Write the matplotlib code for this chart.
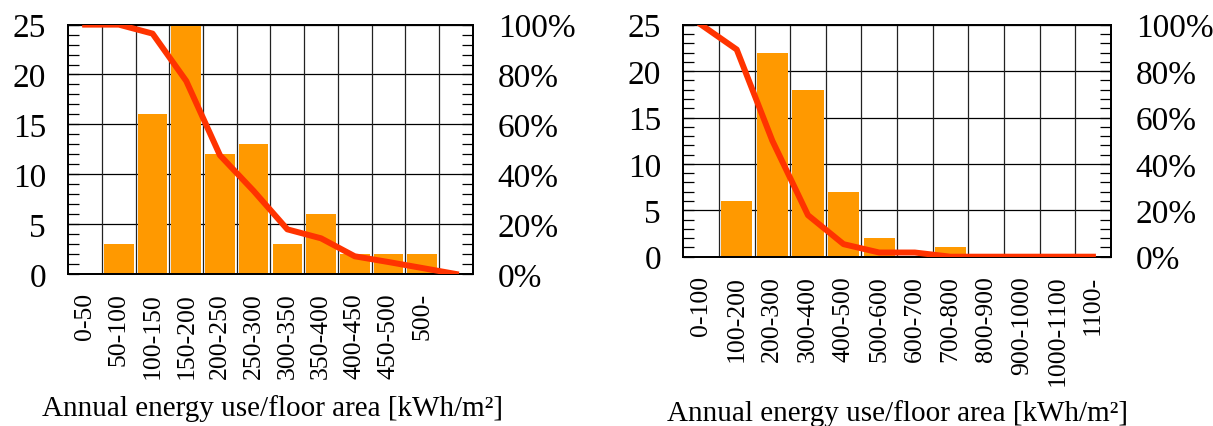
import matplotlib
matplotlib.use('Agg')
import matplotlib.pyplot as plt
import numpy as np
from matplotlib.ticker import MultipleLocator, FuncFormatter

plt.rcParams['font.family'] = ['Liberation Serif', 'DejaVu Serif']

# left chart: 50 kWh/m2 bins
left_labels = ['0-50', '50-100', '100-150', '150-200', '200-250', '250-300',
               '300-350', '350-400', '400-450', '450-500', '500-']
left_counts = [0, 3, 16, 25, 12, 13, 3, 6, 2, 2, 2, 0]
left_share = [100, 100, 96.4, 77.4, 47.6, 33.3, 17.9, 14.3, 7.1, 4.8, 2.4, 0]

# right chart: 100 kWh/m2 bins
right_labels = ['0-100', '100-200', '200-300', '300-400', '400-500', '500-600',
                '600-700', '700-800', '800-900', '900-1000', '1000-1100', '1100-']
right_counts = [0, 6, 22, 18, 7, 2, 0, 1, 0, 0, 0, 0]
right_share = [100, 89.3, 50, 17.9, 5.4, 1.8, 1.8, 0, 0, 0, 0, 0]

BAR = '#FF9900'
LINE = '#FF3300'
XLABEL = 'Annual energy use/floor area [kWh/m\u00b2]'


def draw(ax, labels, counts, share):
    n = len(counts)
    x = np.arange(n)
    ax.set_axisbelow(True)
    ax.bar(x, counts, width=0.88, color=BAR, zorder=2)
    ax.set_xlim(-0.5, n - 0.5)
    ax.set_ylim(0, 25)
    for b in np.arange(0.5, n - 0.5):
        ax.axvline(b, color='#222222', lw=0.9, zorder=1)
    ax.yaxis.set_major_locator(MultipleLocator(5))
    ax.yaxis.set_minor_locator(MultipleLocator(1))
    ax.grid(axis='y', which='major', color='black', lw=0.9, zorder=1)
    ax.set_xticks(x[:len(labels)])
    ax.set_xticklabels(labels, rotation=90, fontsize=18.5)
    ax.tick_params(axis='x', length=0, pad=13)
    ax.tick_params(axis='y', which='both', direction='in', length=8,
                   width=0.9, labelsize=24, pad=16)
    for s in ax.spines.values():
        s.set_linewidth(1.3)

    tw = ax.twinx()
    tw.plot(x, share, color=LINE, lw=4.3, zorder=3)
    tw.set_ylim(0, 100)
    tw.yaxis.set_major_locator(MultipleLocator(20))
    tw.yaxis.set_minor_locator(MultipleLocator(4))
    tw.yaxis.set_major_formatter(FuncFormatter(lambda v, p: f'{v:.0f}%'))
    tw.tick_params(axis='y', which='both', direction='in', length=8,
                   width=0.9, labelsize=24, pad=18)
    for s in tw.spines.values():
        s.set_linewidth(1.3)


fig = plt.figure(figsize=(12.13, 4.27), dpi=100)
ax1 = fig.add_axes([0.0563, 0.356, 0.3334, 0.584])
ax2 = fig.add_axes([0.5633, 0.3965, 0.3524, 0.5433])

draw(ax1, left_labels, left_counts, left_share)
draw(ax2, right_labels, right_counts, right_share)

fig.text(0.2245, 0.026, XLABEL, ha='center', va='baseline', fontsize=21)
fig.text(0.7395, 0.014, XLABEL, ha='center', va='baseline', fontsize=21)

fig.savefig('out.png', dpi=100)
